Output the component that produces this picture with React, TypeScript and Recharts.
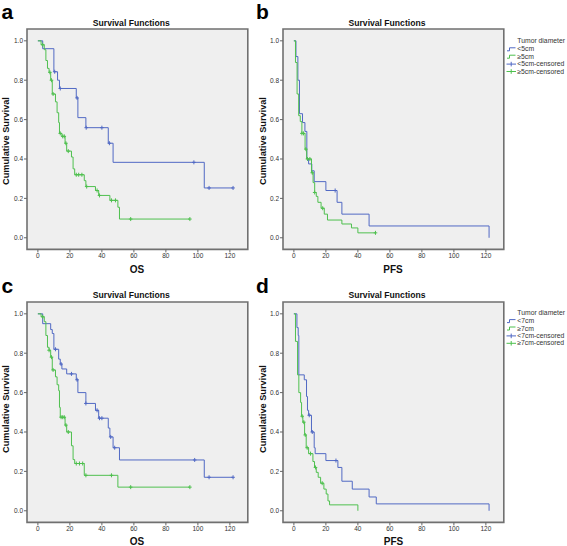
import React from 'react';
import { ComposedChart, Line, Scatter, XAxis, YAxis, CartesianGrid, ReferenceArea } from 'recharts';

// ---- data (time in months, cumulative survival) ----
const xTicks = [0, 20, 40, 60, 80, 100, 120];
const yTicks = [0, 0.2, 0.4, 0.6, 0.8, 1.0];

// Panel a: OS by tumor diameter 5cm
const aBlueT = [0, 3, 10, 12.3, 13.5, 24, 25, 30, 44, 47, 104, 122];
const aBlueS = [1, 0.96, 0.843, 0.8, 0.758, 0.71, 0.61, 0.559, 0.48, 0.383, 0.253, 0.253];
const aBlueC = [10.5, 14, 24.5, 30.2, 40, 44.7, 97.5, 107, 122];
const aGreenT = [0, 2, 4, 5, 6, 7, 8, 9, 11, 12, 13, 13.5, 15, 17, 18, 21, 22, 23, 29, 30, 36, 38, 45, 50, 51, 95];
const aGreenS = [1, 0.98, 0.955, 0.9, 0.86, 0.84, 0.8, 0.73, 0.69, 0.635, 0.585, 0.53, 0.515, 0.48, 0.44, 0.41, 0.35, 0.32, 0.29, 0.26, 0.24, 0.215, 0.19, 0.155, 0.095, 0.095];
const aGreenC = [3, 7.5, 8.5, 9.5, 14, 15.5, 16.5, 17.5, 19, 24, 25.5, 27.5, 30.5, 37, 38.5, 46, 48.5, 58, 95];

// Panel b: PFS by tumor diameter 5cm
const bBlueT = [0, 1.3, 2.5, 3.5, 5.4, 6.9, 8.1, 9.2, 11.2, 12.7, 20, 27, 30, 47, 122, 122];
const bBlueS = [1, 0.92, 0.8, 0.63, 0.585, 0.54, 0.4, 0.375, 0.34, 0.285, 0.24, 0.18, 0.12, 0.06, 0.06, 0];
const bBlueC = [25.8];
const bGreenT = [0, 1, 2, 3, 4, 5, 7, 8, 11, 12, 13, 14, 15, 17, 19, 21, 30, 36, 40, 51];
const bGreenS = [1, 0.89, 0.73, 0.62, 0.59, 0.53, 0.45, 0.4, 0.33, 0.28, 0.23, 0.21, 0.18, 0.15, 0.12, 0.09, 0.07, 0.05, 0.025, 0.025];
const bGreenC = [5, 6, 7.5, 8.5, 10, 11.5, 13, 18, 51];

// Panel c: OS by tumor diameter 7cm
const cBlueT = [0, 3, 8, 9, 10, 13, 14, 15, 18, 24, 25, 30, 36, 38, 44, 45, 47, 51, 104, 122];
const cBlueS = [1, 0.95, 0.92, 0.9, 0.82, 0.77, 0.745, 0.72, 0.695, 0.665, 0.6, 0.545, 0.51, 0.47, 0.42, 0.375, 0.32, 0.258, 0.17, 0.17];
const cBlueC = [11, 14.5, 21, 24.5, 30, 37, 38.5, 40, 45.5, 48, 98, 107, 122];
const cGreenT = [0, 2, 4, 5, 6, 7, 8, 9, 11, 12, 13, 13.5, 14, 17, 18, 21, 22, 23, 29, 50, 95];
const cGreenS = [1, 0.985, 0.96, 0.89, 0.83, 0.815, 0.78, 0.715, 0.68, 0.64, 0.61, 0.525, 0.475, 0.435, 0.4, 0.33, 0.26, 0.24, 0.18, 0.12, 0.12];
const cGreenC = [3, 7, 8.5, 9.5, 14.5, 15.5, 16.5, 17.5, 19, 24, 26, 28, 30, 46, 58, 95];

// Panel d: PFS by tumor diameter 7cm
const dBlueT = [0, 1.9, 2.7, 3.1, 6.5, 7.9, 8.5, 9.2, 11, 12.7, 13.3, 20, 27.5, 30, 36.5, 47, 51.5, 122, 122];
const dBlueS = [1, 0.93, 0.89, 0.69, 0.665, 0.58, 0.51, 0.485, 0.4, 0.32, 0.29, 0.255, 0.22, 0.15, 0.11, 0.07, 0.035, 0.035, 0];
const dBlueC = [9.6, 11.5, 26.3];
const dGreenT = [0, 1, 2.3, 3.1, 4.2, 4.8, 5.6, 6.7, 7.7, 9.2, 11.9, 12.9, 14, 15.2, 16.7, 18.75, 20.2, 21.3, 22.3, 40, 40];
const dGreenS = [1, 0.86, 0.69, 0.6, 0.55, 0.48, 0.45, 0.385, 0.32, 0.29, 0.25, 0.22, 0.195, 0.17, 0.14, 0.11, 0.085, 0.05, 0.03, 0.03, 0];
const dGreenC = [5.2, 6.2, 7.1, 8.3, 10.4, 13.5, 17.7];

const groups5 = ['<5cm', '≥5cm', '<5cm-censored', '≥5cm-censored'];
const groups7 = ['<7cm', '≥7cm', '<7cm-censored', '≥7cm-censored'];

const BLUE = '#5068C4';
const GREEN = '#4EC04E';
const FONT = '"Liberation Sans", Arial, sans-serif';
const X_DOMAIN: [number, number] = [-6.8, 131.2];
const Y_DOMAIN: [number, number] = [-0.059, 1.06];

const toPoints = (t: number[], s: number[]) => t.map((v, i) => ({ t: v, s: s[i] }));
const censorPoints = (c: number[], t: number[], s: number[]) =>
  c.map((ct) => {
    let val = s[0];
    for (let i = 0; i < t.length; i++) if (t[i] <= ct && (i === t.length - 1 || s[i] > 0)) val = s[i];
    return { t: ct, s: val };
  });

const CensorMark = (color: string) => (props: any) => {
  const { cx, cy } = props;
  if (cx == null || cy == null) return <g />;
  return (
    <g stroke={color} strokeWidth={1}>
      <line x1={cx - 1.8} x2={cx + 1.8} y1={cy} y2={cy} />
      <line x1={cx} x2={cx} y1={cy - 2} y2={cy + 2} />
    </g>
  );
};

type PanelProps = {
  left: number;
  top: number;
  blueT: number[]; blueS: number[]; blueC: number[];
  greenT: number[]; greenS: number[]; greenC: number[];
};

const Panel = ({ left, top, blueT, blueS, blueC, greenT, greenS, greenC }: PanelProps) => {
  const tickStyle = { fontSize: 6.5, fill: '#333', fontFamily: FONT };
  return (
    <div style={{ position: 'absolute', left, top }}>
      <ComposedChart width={249.8} height={269.4} margin={{ top: 29, right: 2, bottom: 0, left: 0 }}>
        <CartesianGrid fill="#EFEFEF" horizontal={false} vertical={false} />
        <XAxis
          type="number"
          dataKey="t"
          domain={X_DOMAIN}
          ticks={xTicks}
          allowDataOverflow
          height={20}
          tickSize={3}
          tickMargin={1}
          axisLine={false}
          tickLine={{ stroke: '#666' }}
          tick={tickStyle}
        />
        <YAxis
          type="number"
          dataKey="s"
          domain={Y_DOMAIN}
          ticks={yTicks}
          allowDataOverflow
          width={27}
          tickSize={3}
          tickMargin={1}
          axisLine={false}
          tickLine={{ stroke: '#666' }}
          tick={tickStyle}
          tickFormatter={(v: number) => v.toFixed(1)}
        />
        <Line data={toPoints(blueT, blueS)} dataKey="s" type="stepAfter" stroke={BLUE} strokeWidth={1} dot={false} isAnimationActive={false} />
        <Line data={toPoints(greenT, greenS)} dataKey="s" type="stepAfter" stroke={GREEN} strokeWidth={1} dot={false} isAnimationActive={false} />
        <Scatter data={censorPoints(blueC, blueT, blueS)} dataKey="s" shape={CensorMark(BLUE)} isAnimationActive={false} />
        <Scatter data={censorPoints(greenC, greenT, greenS)} dataKey="s" shape={CensorMark(GREEN)} isAnimationActive={false} />
        <ReferenceArea x1={X_DOMAIN[0]} x2={X_DOMAIN[1]} y1={Y_DOMAIN[0]} y2={Y_DOMAIN[1]} fill="none" stroke="#707070" strokeWidth={1.6} ifOverflow="visible" />
      </ComposedChart>
    </div>
  );
};

const Legend = ({ y, labels }: { y: number; labels: string[] }) => (
  <g fontFamily={FONT} fontSize={6.8} fill="#333">
    <text x={517.3} y={y}>Tumor diameter</text>
    {labels.map((lab, i) => {
      const by = y + 8.6 + i * 7.4;
      const color = i % 2 === 0 ? BLUE : GREEN;
      const sym =
        i < 2 ? (
          <path d={`M507 ${by - 0.5} H509.5 V${by - 3.5} H515.5`} fill="none" stroke={color} strokeWidth={1} />
        ) : (
          <g stroke={color} strokeWidth={1}>
            <line x1={506.5} x2={516} y1={by - 2} y2={by - 2} />
            <line x1={511.2} x2={511.2} y1={by - 4.3} y2={by + 0.3} />
          </g>
        );
      return (
        <g key={lab}>
          {sym}
          <text x={517.3} y={by}>{lab}</text>
        </g>
      );
    })}
  </g>
);

const Overlay = () => (
  <svg width={567} height={546} style={{ position: 'absolute', left: 0, top: 0, pointerEvents: 'none' }}>
    <g fontFamily={FONT} fontWeight="bold" fill="#000">
      <text x={1.5} y={19} fontSize={21}>a</text>
      <text x={256} y={19} fontSize={21}>b</text>
      <text x={1.5} y={293} fontSize={21}>c</text>
      <text x={256} y={293} fontSize={21}>d</text>
    </g>
    <g fontFamily={FONT} fontWeight="bold" fill="#111" fontSize={8.6} textAnchor="middle">
      <text x={131.3} y={26.3}>Survival Functions</text>
      <text x={387} y={26.3}>Survival Functions</text>
      <text x={131.3} y={298.3}>Survival Functions</text>
      <text x={387} y={298.3}>Survival Functions</text>
    </g>
    <g fontFamily={FONT} fontWeight="bold" fill="#111" fontSize={9.2} textAnchor="middle">
      <text x={8.8} y={141} transform="rotate(-90 8.8 141)">Cumulative Survival</text>
      <text x={266} y={141} transform="rotate(-90 266 141)">Cumulative Survival</text>
      <text x={8.8} y={409} transform="rotate(-90 8.8 409)">Cumulative Survival</text>
      <text x={266} y={409} transform="rotate(-90 266 409)">Cumulative Survival</text>
    </g>
    <g fontFamily={FONT} fontWeight="bold" fill="#111" fontSize={10} textAnchor="middle">
      <text x={137} y={272.8}>OS</text>
      <text x={393} y={272.8}>PFS</text>
      <text x={137} y={545.3}>OS</text>
      <text x={393.5} y={545.3}>PFS</text>
    </g>
    <Legend y={42.7} labels={groups5} />
    <Legend y={314.5} labels={groups7} />
  </svg>
);

export default function App() {
  return (
    <div style={{ position: 'absolute', left: 0, top: 0, width: 567, height: 546, background: '#fff', overflow: 'hidden' }}>
      <Panel left={-0.3} top={0} blueT={aBlueT} blueS={aBlueS} blueC={aBlueC} greenT={aGreenT} greenS={aGreenS} greenC={aGreenC} />
      <Panel left={255.7} top={0} blueT={bBlueT} blueS={bBlueS} blueC={bBlueC} greenT={bGreenT} greenS={bGreenS} greenC={bGreenC} />
      <Panel left={-0.3} top={273} blueT={cBlueT} blueS={cBlueS} blueC={cBlueC} greenT={cGreenT} greenS={cGreenS} greenC={cGreenC} />
      <Panel left={255.7} top={273} blueT={dBlueT} blueS={dBlueS} blueC={dBlueC} greenT={dGreenT} greenS={dGreenS} greenC={dGreenC} />
      <Overlay />
    </div>
  );
}
